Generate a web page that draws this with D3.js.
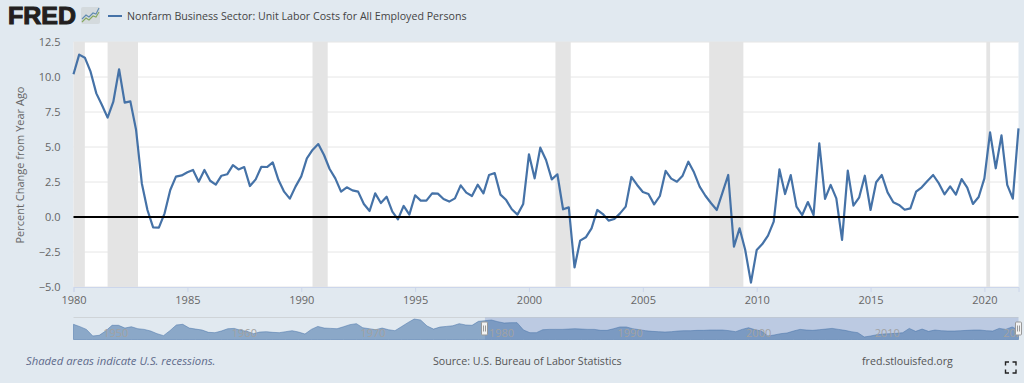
<!DOCTYPE html>
<html>
<head>
<meta charset="utf-8">
<script src="https://d3js.org/d3.v7.min.js"></script>
<style>
html, body { margin: 0; padding: 0; background: #e1e9f0; overflow: hidden; }
text { font-family: "Open Sans", sans-serif; }
</style>
</head>
<body>
<div id="chart"></div>
<script>
var seriesName = "Nonfarm Business Sector: Unit Labor Costs for All Employed Persons";
var yAxisLabel = "Percent Change from Year Ago";
var yTicks = [-5, -2.5, 0, 2.5, 5, 7.5, 10, 12.5];
var xTickYears = [1980, 1985, 1990, 1995, 2000, 2005, 2010, 2015, 2020];
var navTickYears = [1950, 1960, 1970, 1980, 1990, 2000, 2010, 2020];

// quarterly, starts 1980 Q1
var laborCosts = [
  10.2, 11.6, 11.38, 10.38, 8.83, 8.0, 7.1, 8.24, 10.55, 8.17, 8.26, 6.21,
  2.4, 0.5, -0.74, -0.76, 0.26, 1.93, 2.88, 2.97, 3.19, 3.36, 2.52, 3.36,
  2.59, 2.31, 2.95, 3.05, 3.71, 3.4, 3.57, 2.21, 2.69, 3.59, 3.57, 3.9,
  2.64, 1.81, 1.31, 2.17, 2.9, 4.19, 4.79, 5.21, 4.43, 3.43, 2.76, 1.81,
  2.12, 1.9, 1.81, 0.93, 0.43, 1.69, 1.0, 1.45, 0.38, -0.17, 0.79, 0.17,
  1.55, 1.17, 1.17, 1.69, 1.67, 1.29, 1.1, 1.33, 2.26, 1.74, 1.5, 2.31,
  1.69, 3.0, 3.14, 1.6, 1.21, 0.55, 0.17, 0.93, 4.48, 2.76, 4.95, 4.07,
  2.69, 3.05, 0.55, 0.69, -3.6, -1.69, -1.45, -0.81, 0.5, 0.21, -0.26, -0.14,
  0.26, 0.74, 2.86, 2.29, 1.79, 1.64, 0.9, 1.5, 3.29, 2.74, 2.52, 2.95,
  3.95, 3.19, 2.17, 1.52, 0.98, 0.5, 1.74, 3.0, -2.12, -0.81, -2.36, -4.69,
  -2.36, -1.93, -1.33, -0.33, 3.4, 1.64, 2.99, 0.74, 0.14, 1.07, 0.14, 5.26,
  1.29, 2.29, 1.33, -1.64, 3.31, 0.81, 1.38, 2.95, 0.5, 2.48, 3.0, 1.76,
  1.05, 0.86, 0.52, 0.62, 1.81, 2.12, 2.57, 3.0, 2.4, 1.62, 2.19, 1.6,
  2.71, 2.1, 0.93, 1.43, 2.76, 6.05, 3.48, 5.83, 2.29, 1.31, 6.33
];

// navigator series, half yearly from 1948, smoother than the main line
var navCosts = [
  7.0, 4.9, 2.4, -3.6, -3.0, 0.9, 6.1, 6.1, 3.6, 4.8, 3.0, 2.4, 0.9, -1.5, -3.3, 1.2,
  6.4, 7.0, 3.6, 2.7, 1.8, -0.3, -0.6, 0.9, 3.0, 3.3, 1.5, 0.6, -1.5, 0, 0.3, -0.3,
  -0.6, 0.3, 1.2, 0, -1.8, 2.4, 5.1, 3.6, 3.3, 3.0, 4.8, 6.7, 7.6, 3.9, 3.0, 2.1,
  3.6, 2.1, 1.2, 4.8, 8.5, 11.8, 10.9, 5.5, 2.7, 4.5, 5.1, 5.7, 7.6, 6.4, 6.1, 9.7,
  10.3, 10.9, 9.4, 8.2, 8.5, 8.5, 1.8, -0.6, -0.6, 2.1, 2.4, 2.4, 2.4, 2.7, 3.0, 2.7,
  2.4, 2.4, 1.5, 1.5, 3.0, 4.6, 4.6, 3.0, 2.1, 1.2, 0.6, 0.3, 0, 0.3, 0.9, 1.2,
  1.2, 1.5, 1.5, 1.8, 1.8, 1.8, 1.2, 0.3, 2.4, 3.9, 2.1, 0.9, -3.6, -2.7, -1.5, -0.9,
  0.9, 2.4, 1.8, 1.5, 2.1, 2.7, 3.3, 2.4, 1.5, 0.3, -0.6, -4.5, -3.6, -2.4, -1.8, -1.5,
  -1.2, -0.6, 3.3, 0.6, 2.7, 0.6, 1.8, 1.2, 0.9, 0.9, 1.2, 1.5, 1.8, 1.8, 1.2, 0.9,
  3.3, 2.4, 4.6, 1.8
];

var recessionStarts = ["1980-01-01", "1981-07-01", "1990-07-01", "2001-03-01", "2007-12-01", "2020-02-01"];
var recessionEnds = ["1980-07-01", "1982-11-01", "1991-03-01", "2001-11-01", "2009-06-01", "2020-04-01"];

var svgWidth = 1024;
var svgHeight = 383;
var margin = { top: 42, bottom: 96, left: 73.5, right: 5.5 };
var width = svgWidth - margin.left - margin.right;
var height = svgHeight - margin.top - margin.bottom;

var parseDate = d3.timeParse("%Y-%m-%d");
var lineColor = "#4572a7";

var data = laborCosts.map((d, i) => ({ date: d3.timeMonth.offset(new Date(1980, 0, 1), i * 3), value: d }));
var navData = navCosts.map((d, i) => ({ date: d3.timeMonth.offset(new Date(1948, 0, 1), i * 6), value: d }));

var svg = d3.select("#chart")
  .append("svg")
  .attr("width", svgWidth)
  .attr("height", svgHeight)
  .style("display", "block");

var xTimeScale = d3.scaleTime()
  .domain(d3.extent(data, d => d.date))
  .range([0, width]);

var yLinearScale = d3.scaleLinear()
  .domain([-5, 12.5])
  .range([height, 0]);

var chartGroup = svg.append("g")
  .attr("transform", `translate(${margin.left},${margin.top})`);

chartGroup.append("rect")
  .attr("width", width)
  .attr("height", height)
  .attr("fill", "#fff");

// gridlines first, recessions sit on top of them
chartGroup.selectAll(".grid")
  .data(yTicks)
  .enter()
  .append("line")
  .attr("x1", 0)
  .attr("x2", width)
  .attr("y1", d => yLinearScale(d))
  .attr("y2", d => yLinearScale(d))
  .attr("stroke", "#e6e6e6")
  .attr("stroke-width", 1);

chartGroup.selectAll(".recession")
  .data(recessionStarts)
  .enter()
  .append("rect")
  .attr("x", d => xTimeScale(parseDate(d)))
  .attr("y", 0)
  .attr("width", (d, i) => xTimeScale(parseDate(recessionEnds[i])) - xTimeScale(parseDate(d)))
  .attr("height", height)
  .attr("fill", "#e4e4e4");

var yAxis = chartGroup.append("g")
  .call(d3.axisLeft(yLinearScale).tickValues(yTicks).tickFormat(d3.format(".1f")).tickSize(0).tickPadding(13));
yAxis.select(".domain").remove();
yAxis.selectAll("text")
  .attr("fill", "#666")
  .style("font-size", "11px")
  .style("font-family", '"Open Sans", sans-serif');

var xAxis = chartGroup.append("g")
  .attr("transform", `translate(0,${height})`)
  .call(d3.axisBottom(xTimeScale)
    .tickValues(xTickYears.map(y => new Date(y, 0, 1)))
    .tickFormat(d3.timeFormat("%Y"))
    .tickSize(5)
    .tickPadding(4));
xAxis.select(".domain").attr("stroke", "#ccd6eb");
xAxis.selectAll("line").attr("stroke", "#ccd6eb");
xAxis.selectAll("text")
  .attr("fill", "#666")
  .style("font-size", "11px")
  .style("font-family", '"Open Sans", sans-serif');

var drawLine = d3.line()
  .x(d => xTimeScale(d.date))
  .y(d => yLinearScale(d.value));

chartGroup.append("path")
  .attr("d", drawLine(data))
  .attr("fill", "none")
  .attr("stroke", lineColor)
  .attr("stroke-width", 2.2)
  .attr("stroke-linejoin", "round");

chartGroup.append("line")
  .attr("x1", 0)
  .attr("x2", width)
  .attr("y1", yLinearScale(0))
  .attr("y2", yLinearScale(0))
  .attr("stroke", "#000")
  .attr("stroke-width", 2);

svg.append("text")
  .attr("transform", "translate(24,165) rotate(-90)")
  .attr("text-anchor", "middle")
  .attr("fill", "#666")
  .style("font-size", "11px")
  .text(yAxisLabel);

// header: logo and legend
svg.append("text")
  .attr("x", 8)
  .attr("y", 24)
  .attr("textLength", 68)
  .attr("lengthAdjust", "spacingAndGlyphs")
  .attr("fill", "#231f20")
  .attr("stroke", "#231f20")
  .attr("stroke-width", 1)
  .style("font-family", '"Liberation Sans", sans-serif')
  .style("font-weight", "700")
  .style("font-size", "23px")
  .text("FRED");

var logoIcon = svg.append("g").attr("transform", "translate(81,7)");
logoIcon.append("rect")
  .attr("width", 19)
  .attr("height", 17)
  .attr("rx", 2)
  .attr("fill", "#d4dadd");
logoIcon.append("path")
  .attr("d", "M1,12 L5,8 L8,10 L12,6 L15,7 L18,1")
  .attr("fill", "none")
  .attr("stroke", "#5f8ab0")
  .attr("stroke-width", 1.1);
logoIcon.append("path")
  .attr("d", "M1,15 L5,11 L8,13 L12,9 L15,10 L18,5")
  .attr("fill", "none")
  .attr("stroke", "#86a860")
  .attr("stroke-width", 1.1);

svg.append("line")
  .attr("x1", 108)
  .attr("x2", 122)
  .attr("y1", 16)
  .attr("y2", 16)
  .attr("stroke", lineColor)
  .attr("stroke-width", 2);

svg.append("text")
  .attr("x", 127)
  .attr("y", 20)
  .attr("fill", "#444")
  .style("font-size", "10.65px")
  .text(seriesName);

// navigator
var navTop = 317.5;
var navBottom = 339.5;

var navX = d3.scaleTime()
  .domain([new Date(1948, 0, 1), d3.max(data, d => d.date)])
  .range([margin.left, margin.left + width]);

var navY = d3.scaleLinear()
  .domain([-6.8, 13.2])
  .range([navBottom, navTop]);

var navGroup = svg.append("g");

svg.append("clipPath")
  .attr("id", "navClip")
  .append("rect")
  .attr("x", margin.left)
  .attr("y", navTop)
  .attr("width", width)
  .attr("height", navBottom - navTop);

navGroup.append("line")
  .attr("x1", margin.left)
  .attr("x2", margin.left + width)
  .attr("y1", navTop)
  .attr("y2", navTop)
  .attr("stroke", "#cfd4d8");

navGroup.append("rect")
  .attr("x", navX(new Date(1980, 0, 1)))
  .attr("y", navTop)
  .attr("width", margin.left + width - navX(new Date(1980, 0, 1)))
  .attr("height", navBottom - navTop)
  .attr("fill", "#6685c2")
  .attr("fill-opacity", 0.3);

var drawNavArea = d3.area()
  .x(d => navX(d.date))
  .y0(navBottom)
  .y1(d => navY(d.value));

navGroup.append("path")
  .attr("d", drawNavArea(navData))
  .attr("fill", lineColor)
  .attr("fill-opacity", 0.55)
  .attr("stroke", lineColor)
  .attr("stroke-opacity", 0.5)
  .attr("stroke-width", 1);

navGroup.selectAll(".navLabel")
  .data(navTickYears)
  .enter()
  .append("text")
  .attr("clip-path", "url(#navClip)")
  .attr("x", d => navX(new Date(d, 0, 1)) + 4)
  .attr("y", 336.5)
  .attr("fill", "#a2a2a2")
  .style("font-size", "11px")
  .text(d => d);

var handleDates = [new Date(1980, 0, 1), d3.max(data, d => d.date)];

handleDates.forEach(d => {
  var hx = Math.round(navX(d)) - 0.5;
  var handle = navGroup.append("g").attr("transform", `translate(${hx},322)`);
  handle.append("rect")
    .attr("x", -3)
    .attr("width", 6)
    .attr("height", 13)
    .attr("rx", 1)
    .attr("fill", "#f2f2f2")
    .attr("stroke", "#999");
  handle.append("path")
    .attr("d", "M-1,3.5 V9.5 M1,3.5 V9.5")
    .attr("stroke", "#999")
    .attr("fill", "none");
});

// footer
svg.append("text")
  .attr("x", 26)
  .attr("y", 365)
  .attr("fill", "#5f6b8c")
  .style("font-size", "11.3px")
  .style("font-style", "italic")
  .text("Shaded areas indicate U.S. recessions.");

svg.append("text")
  .attr("x", 433)
  .attr("y", 365)
  .attr("fill", "#555")
  .style("font-size", "10.65px")
  .text("Source: U.S. Bureau of Labor Statistics");

svg.append("text")
  .attr("x", 862)
  .attr("y", 365)
  .attr("fill", "#555")
  .style("font-size", "10.65px")
  .text("fred.stlouisfed.org");

// fullscreen corners
svg.append("path")
  .attr("d", "M1005.5,365.5 V362 H1009 M1012.5,362 H1016 V365.5 M1016,369.5 V373 H1012.5 M1009,373 H1005.5 V369.5")
  .attr("fill", "none")
  .attr("stroke", "#222")
  .attr("stroke-width", 1.4);
</script>
</body>
</html>
